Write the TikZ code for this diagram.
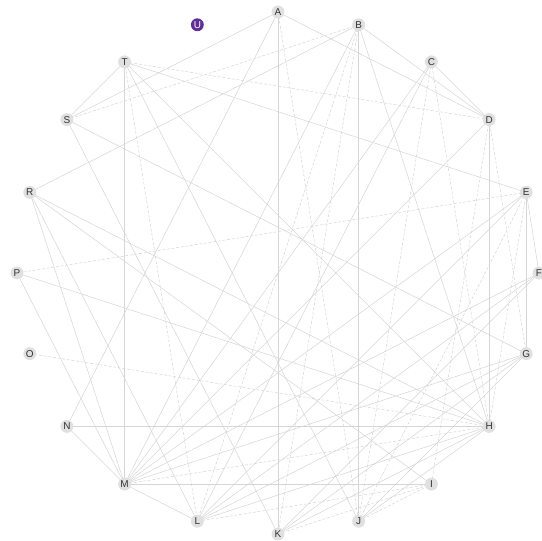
\documentclass[tikz,border=0pt]{standalone}
\usepackage{fontspec}
\setmainfont{Liberation Sans}
\usepackage{xcolor}
\usepackage{tikz}
\definecolor{edgegray}{HTML}{D6D6D6}
\definecolor{vfill}{HTML}{E0E0E0}
\definecolor{vtext}{HTML}{333333}
\definecolor{upurple}{HTML}{5E2F96}
\tikzset{
  vert/.style={circle,fill=vfill,text=vtext,inner sep=0pt,minimum size=11pt,font=\fontsize{8.5}{9}\selectfont},
  lonely/.style={circle,fill=upurple,text=white,inner sep=0pt,minimum size=11pt,font=\fontsize{8.5}{9}\selectfont},
  link/.style={draw=edgegray,line width=0.45pt},
  dlink/.style={draw=edgegray,line width=0.45pt,dash pattern=on 2.5pt off 1.5pt}
}
\begin{document}
\begin{tikzpicture}[x=0.03cm,y=0.03cm]
\useasboundingbox (0,0) rectangle (542,540);
\begin{scope}[shift={(278,267)}]
\foreach \n [count=\i from 0] in {A,B,C,D,E,F,G,H,I,J,K,L,M,N,O,P,R,S,T}
  \coordinate (\n) at ({90-18*\i}:261);
\node[lonely] (U) at (108:261) {U};
\end{scope}
\foreach \a/\b in {A/S,A/N,A/K,A/D,B/R,B/M,B/J,B/H,B/D,C/M,C/L,C/D,D/H,D/M,
  E/T,E/M,E/G,E/L,F/M,F/E,G/L,G/S,H/N,H/P,H/R,H/T,H/L,H/K,H/J,I/M,
  M/N,M/P,M/R,M/T,M/L,M/G,L/R,T/S,T/J,K/G,J/G,I/R,K/S,F/K,L/F}
  \path[link] (\a) -- (\b);
\foreach \a/\b in {A/J,B/S,B/L,B/K,C/J,C/H,D/T,D/I,D/G,E/P,O/H,T/L,L/I,E/H,M/H,J/I,K/I,E/J}
  \path[dlink] (\a) -- (\b);
\foreach \n in {A,B,C,D,E,F,G,H,I,J,K,L,M,N,O,P,R,S,T}
  \node[vert] at (\n) {\n};
\end{tikzpicture}
\end{document}
